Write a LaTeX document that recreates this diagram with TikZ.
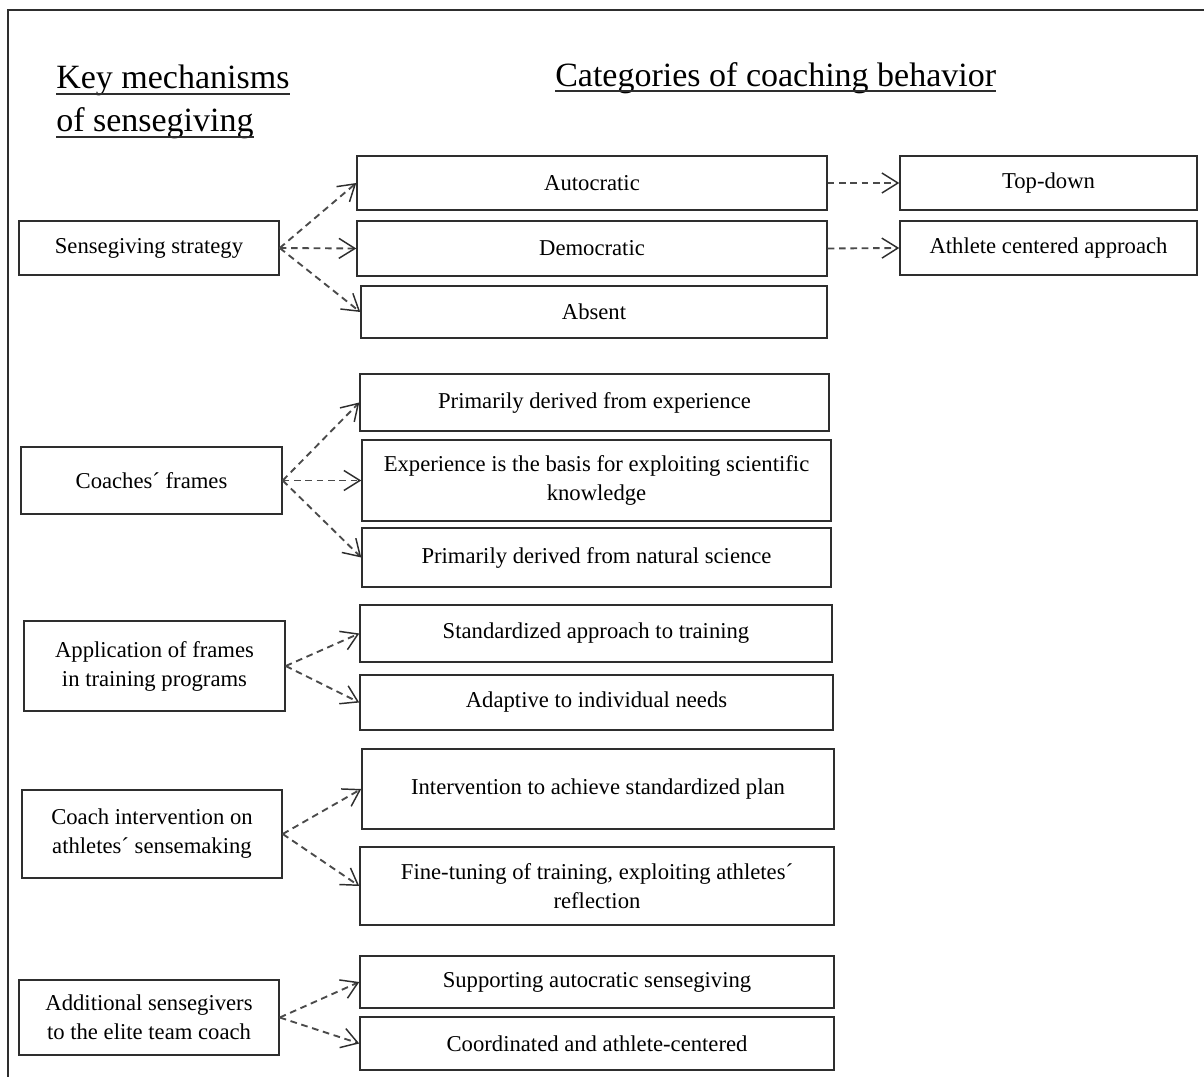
\documentclass[tikz,border=0pt]{standalone}
\usepackage{fontspec}
\setmainfont{Liberation Serif}
\usetikzlibrary{arrows.meta}
\definecolor{boxc}{HTML}{2E2E2E}
\definecolor{arrc}{HTML}{4A4A4A}
\newcommand\mybx[6]{%
  \pgfmathsetmacro\bxw{(#4-#2)*0.75}%
  \pgfmathsetmacro\bxh{(#5-#3)*0.75}%
  \node[box, minimum width=\bxw pt, minimum height=\bxh pt] (#1) at ({(#2+#4)/2},{(#3+#5)/2}) {#6};}
\begin{document}
\begin{tikzpicture}[x=0.75pt,y=-0.75pt,
  box/.style={draw=boxc, line width=1.1pt, inner sep=0pt, align=center,
    font=\fontsize{17}{21.75}\selectfont},
  conn/.style={draw=arrc, line width=1.4pt, dash pattern=on 5pt off 3.5pt,
    -{Straight Barb[length=12pt,width=15pt,line width=1.1pt,color=boxc]}},
  head/.style={inner sep=0pt, anchor=base west, font=\fontsize{25.5}{32}\selectfont},
  uline/.style={draw=boxc, line width=0.9pt}]
\useasboundingbox (0,0) rectangle (1204,1077);
% outer frame (top and left edges)
\draw[draw=boxc, line width=1.1pt] (8,1077) -- (8,10) -- (1204,10);

% headings
\node[head] (h1) at (56,89) {Key mechanisms};
\node[head] (h2) at (56,132) {of sensegiving};
\node[head] (h3) at (555,87) {Categories of coaching behavior};
\draw[uline] ([yshift=-3.75pt]h1.base west) -- ([yshift=-3.75pt]h1.base east);
\draw[uline] ([yshift=-3.75pt]h2.base west) -- ([yshift=-3.75pt]h2.base east);
\draw[uline] ([yshift=-3pt]h3.base west) -- ([yshift=-3pt]h3.base east);

% left column
\mybx{l1}{19}{221}{279}{275}{Sensegiving strategy}
\mybx{l2}{21}{447}{282}{514}{Coaches´ frames}
\mybx{l3}{24}{621}{285}{711}{Application of frames\\in training programs}
\mybx{l4}{22}{790}{282}{878}{Coach intervention on\\athletes´ sensemaking}
\mybx{l5}{19}{980}{279}{1055}{Additional sensegivers\\to the elite team coach}

% middle column
\mybx{m1}{357}{156}{827}{210}{Autocratic}
\mybx{m2}{357}{221}{827}{276}{Democratic}
\mybx{m3}{361}{286}{827}{338}{Absent}
\mybx{m4}{360}{374}{829}{431}{Primarily derived from experience}
\mybx{m5}{362}{440}{831}{521}{Experience is the basis for exploiting scientific\\knowledge}
\mybx{m6}{362}{528}{831}{587}{Primarily derived from natural science}
\mybx{m7}{360}{605}{832}{662}{Standardized approach to training}
\mybx{m8}{360}{675}{833}{730}{Adaptive to individual needs}
\mybx{m9}{362}{749}{834}{829}{Intervention to achieve standardized plan}
\mybx{m10}{360}{847}{834}{925}{Fine-tuning of training, exploiting athletes´\\reflection}
\mybx{m11}{360}{956}{834}{1008}{Supporting autocratic sensegiving}
\mybx{m12}{360}{1017}{834}{1070}{Coordinated and athlete-centered}

% right column
\mybx{r1}{900}{156}{1197}{210}{Top-down}
\mybx{r2}{900}{221}{1197}{275}{Athlete centered approach}

% connectors
\draw[conn] (l1.east) -- (m1.west);
\draw[conn] (l1.east) -- (m2.west);
\draw[conn] (l1.east) -- (m3.west);
\draw[conn] (l2.east) -- (m4.west);
\draw[conn] (l2.east) -- (m5.west);
\draw[conn] (l2.east) -- (m6.west);
\draw[conn] (l3.east) -- (m7.west);
\draw[conn] (l3.east) -- (m8.west);
\draw[conn] (l4.east) -- (m9.west);
\draw[conn] (l4.east) -- (m10.west);
\draw[conn] (l5.east) -- (m11.west);
\draw[conn] (l5.east) -- (m12.west);
\draw[conn] (m1.east) -- (r1.west);
\draw[conn] (m2.east) -- (r2.west);
\end{tikzpicture}
\end{document}
